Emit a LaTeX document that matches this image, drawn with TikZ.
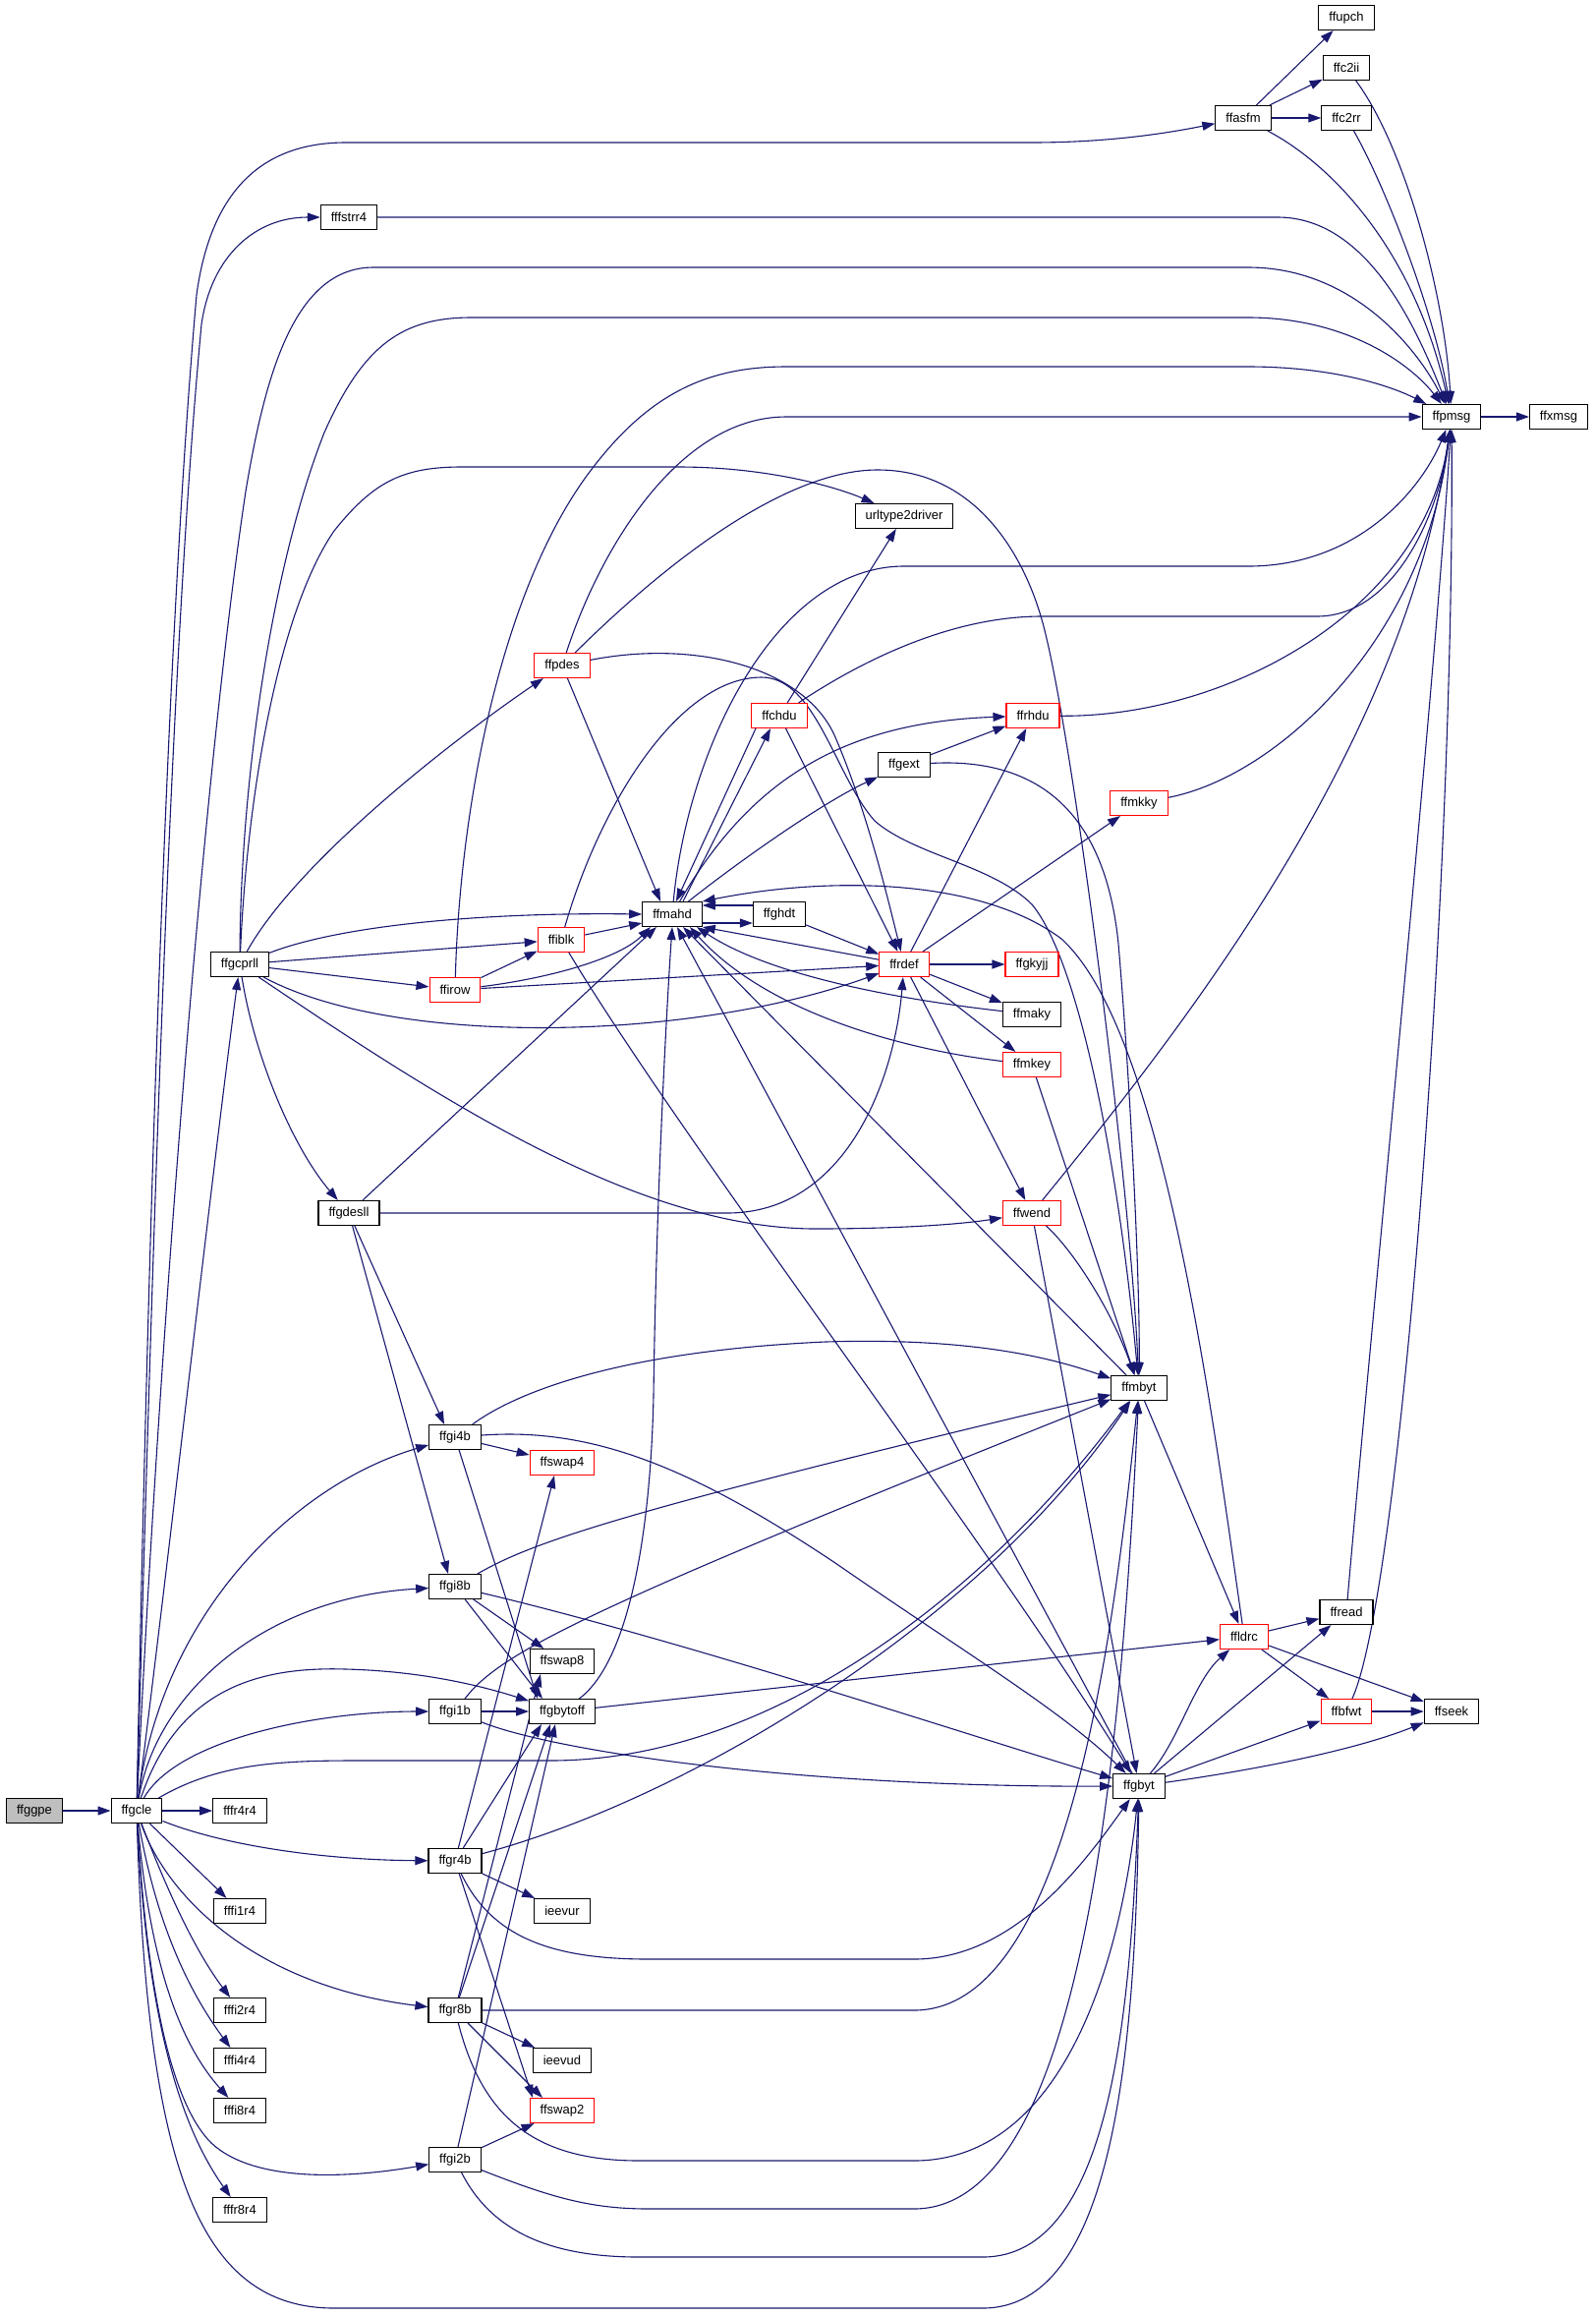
\documentclass[tikz,border=0pt]{standalone}
\usepackage{fontspec}
\setmainfont{Liberation Sans}[Ligatures=CommonOff]
\usetikzlibrary{arrows.meta}
\definecolor{ecol}{HTML}{191970}
\definecolor{ngray}{HTML}{BFBFBF}
\pgfdeclarelayer{bg}
\pgfsetlayers{bg,main}
\begin{document}
\begin{tikzpicture}[x=1pt,y=-1pt,
  nd/.style={draw=black, line width=1.1pt, fill=white, minimum height=25pt, inner xsep=10.5pt, inner ysep=0pt, font=\fontsize{13}{15}\selectfont},
  rn/.style={nd, draw=red},
  gn/.style={nd, fill=ngray},
  conn/.style={draw=ecol, line width=1.1pt, -{Triangle[length=13pt,width=9pt]}}]
\useasboundingbox (0,0) rectangle (1623,2356);
% nodes
\node[gn] (ffggpe) at (35,1842) {ffggpe};
\node[nd] (ffgcle) at (139,1842) {ffgcle};
\node[nd] (fffr4r4) at (244,1842) {fffr4r4};
\node[nd] (fffi1r4) at (244,1944) {fffi1r4};
\node[nd] (fffi2r4) at (244,2045) {fffi2r4};
\node[nd] (fffi4r4) at (244,2096) {fffi4r4};
\node[nd] (fffi8r4) at (244,2147) {fffi8r4};
\node[nd] (fffr8r4) at (244,2248) {fffr8r4};
\node[nd] (ffgcprll) at (244,981) {ffgcprll};
\node[nd] (ffgdesll) at (355,1234) {ffgdesll};
\node[nd] (fffstrr4) at (355,221) {fffstrr4};
\node[nd] (ffgi4b) at (463,1462) {ffgi4b};
\node[nd] (ffgi8b) at (463,1614) {ffgi8b};
\node[nd] (ffgi1b) at (463,1741) {ffgi1b};
\node[nd] (ffgr4b) at (463,1893) {ffgr4b};
\node[nd] (ffgr8b) at (463,2045) {ffgr8b};
\node[nd] (ffgi2b) at (463,2197) {ffgi2b};
\node[rn] (ffirow) at (463,1007) {ffirow};
\node[rn] (ffpdes) at (572,677) {ffpdes};
\node[rn] (ffiblk) at (571,956) {ffiblk};
\node[nd] (ffmahd) at (684,930) {ffmahd};
\node[nd] (ffghdt) at (793,930) {ffghdt};
\node[rn] (ffchdu) at (793,728) {ffchdu};
\node[nd] (urltype2driver) at (920,525) {urltype2driver};
\node[nd] (ffgext) at (920,778) {ffgext};
\node[rn] (ffrdef) at (920,981) {ffrdef};
\node[rn] (ffgkyjj) at (1050,981) {ffgkyjj};
\node[nd] (ffmaky) at (1050,1032) {ffmaky};
\node[rn] (ffmkey) at (1050,1083) {ffmkey};
\node[rn] (ffwend) at (1050,1234) {ffwend};
\node[rn] (ffrhdu) at (1051,728) {ffrhdu};
\node[rn] (ffmkky) at (1159,817) {ffmkky};
\node[nd] (ffmbyt) at (1159,1412) {ffmbyt};
\node[nd] (ffgbyt) at (1159,1817) {ffgbyt};
\node[rn] (ffswap4) at (572,1488) {ffswap4};
\node[nd] (ffswap8) at (572,1690) {ffswap8};
\node[nd] (ffgbytoff) at (572,1741) {ffgbytoff};
\node[nd] (ieevur) at (572,1944) {ieevur};
\node[nd] (ieevud) at (572,2096) {ieevud};
\node[rn] (ffswap2) at (572,2147) {ffswap2};
\node[rn] (ffldrc) at (1266,1665) {ffldrc};
\node[nd] (ffread) at (1370,1640) {ffread};
\node[rn] (ffbfwt) at (1370,1741) {ffbfwt};
\node[nd] (ffseek) at (1477,1741) {ffseek};
\node[nd] (ffasfm) at (1265,120) {ffasfm};
\node[nd] (ffupch) at (1370,18) {ffupch};
\node[nd] (ffc2ii) at (1370,69) {ffc2ii};
\node[nd] (ffc2rr) at (1370,120) {ffc2rr};
\node[nd] (ffpmsg) at (1477,424) {ffpmsg};
\node[nd] (ffxmsg) at (1586,424) {ffxmsg};

\begin{pgfonlayer}{bg}
\fill[white] (0,0) rectangle (1623,2356);
% ffgcle
\draw[conn] (ffggpe) -- (ffgcle);
\draw[conn] (ffgcle) -- (fffr4r4);
\draw[conn] (ffgcle) -- (fffi1r4);
\draw[conn] (ffgcle) .. controls (165,1910) and (195,1980) .. (fffi2r4);
\draw[conn] (ffgcle) .. controls (158,1950) and (188,2020) .. (fffi4r4);
\draw[conn] (ffgcle) .. controls (152,1990) and (180,2075) .. (fffi8r4);
\draw[conn] (ffgcle) .. controls (150,2060) and (185,2165) .. (fffr8r4);
\draw[conn] (ffgcle) .. controls (230,1878) and (330,1892) .. (ffgr4b);
\draw[conn] (ffgcle) .. controls (170,1930) and (260,2020) .. (ffgr8b);
\draw[conn] (ffgcle) .. controls (150,2030) and (175,2140) .. (215,2180) .. controls (260,2222) and (360,2215) .. (ffgi2b);
\draw[conn] (ffgcle) .. controls (150,2200) and (200,2348) .. (340,2348) -- (1000,2348) .. controls (1130,2348) and (1155,2100) .. (ffgbyt);
\draw[conn] (ffgcle) .. controls (220,1795) and (280,1791) .. (360,1791) -- (560,1791) .. controls (800,1791) and (1020,1600) .. (ffmbyt);
\draw[conn] (ffgcle) .. controls (180,1770) and (320,1741) .. (ffgi1b);
\draw[conn] (ffgcle) .. controls (180,1720) and (260,1695) .. (352,1698) .. controls (430,1700) and (490,1715) .. (ffgbytoff);
\draw[conn] (ffgcle) .. controls (160,1720) and (270,1625) .. (ffgi8b);
\draw[conn] (ffgcle) .. controls (165,1640) and (300,1510) .. (ffgi4b);
\draw[conn] (ffgcle) .. controls (170,1600) and (215,1200) .. (ffgcprll);
\draw[conn] (ffgcle) .. controls (160,1400) and (205,800) .. (250,500) .. controls (270,380) and (300,272) .. (380,272) -- (1270,272) .. controls (1380,272) and (1445,360) .. (ffpmsg);
\draw[conn] (ffgcle) .. controls (148,1400) and (165,700) .. (200,300) .. controls (215,190) and (270,145) .. (352,145) -- (1050,145) .. controls (1130,145) and (1190,135) .. (ffasfm);
\draw[conn] (ffgcle) .. controls (152,1400) and (170,700) .. (205,330) .. controls (215,260) and (260,221) .. (fffstrr4);
% ffgcprll
\draw[conn] (ffgcprll) .. controls (245,800) and (275,580) .. (330,440) .. controls (370,350) and (410,323) .. (480,323) -- (1270,323) .. controls (1370,323) and (1435,370) .. (ffpmsg);
\draw[conn] (ffgcprll) .. controls (252,800) and (285,620) .. (340,540) .. controls (380,490) and (410,475) .. (470,475) -- (690,475) .. controls (780,475) and (850,495) .. (urltype2driver);
\draw[conn] (ffgcprll) .. controls (300,880) and (450,760) .. (ffpdes);
\draw[conn] (ffgcprll) .. controls (350,940) and (500,928) .. (ffmahd.west);
\draw[conn] (ffgcprll) -- (ffiblk);
\draw[conn] (ffgcprll) -- (ffirow);
\draw[conn] (ffgcprll) .. controls (400,1065) and (700,1060) .. (ffrdef);
\draw[conn] (ffgcprll) .. controls (450,1120) and (650,1250) .. (830,1250) .. controls (920,1250) and (980,1245) .. (ffwend);
\draw[conn] (ffgcprll) .. controls (260,1080) and (300,1170) .. (ffgdesll);
% ffgdesll
\draw[conn] (ffgdesll) -- ([xshift=-16pt]ffmahd.south);
\draw[conn] (ffgdesll) -- (740,1234) .. controls (860,1234) and (910,1100) .. (ffrdef);
\draw[conn] (ffgdesll) -- ([xshift=-11pt]ffgi4b.north);
\draw[conn] (ffgdesll) -- ([xshift=-7pt]ffgi8b.north);
% ffirow
\draw[conn] (ffirow) .. controls (468,820) and (510,600) .. (600,480) .. controls (660,400) and (720,373) .. (800,373) -- (1270,373) .. controls (1350,373) and (1410,390) .. (ffpmsg);
\draw[conn] (ffirow) -- (ffiblk);
\draw[conn] (ffirow) .. controls (560,995) and (630,975) .. ([xshift=-22pt]ffmahd.south);
\draw[conn] (ffirow) -- (ffrdef);
% ffiblk
\draw[conn] (ffiblk) -- ([yshift=-9pt]ffmahd.west);
\draw[conn] (ffiblk) .. controls (610,820) and (690,689) .. (775,689) .. controls (830,689) and (850,790) .. (890,835) .. controls (930,870) and (1010,880) .. (1050,920) .. controls (1100,980) and (1140,1200) .. (ffmbyt);
\draw[conn] (ffiblk) .. controls (700,1170) and (1000,1560) .. (ffgbyt);
% ffpdes
\draw[conn] (ffpdes) .. controls (610,560) and (690,424) .. (800,424) -- (ffpmsg);
\draw[conn] (ffpdes) .. controls (680,570) and (800,478) .. (893,478) .. controls (990,478) and (1040,560) .. (1060,630) .. controls (1090,735) and (1150,1200) .. (ffmbyt);
\draw[conn] (ffpdes) -- ([xshift=-12pt]ffmahd.north);
\draw[conn] (ffpdes) .. controls (710,650) and (820,680) .. (850,750) .. controls (880,820) and (900,900) .. (ffrdef);
% ffchdu
\draw[conn] (ffchdu) -- (urltype2driver);
\draw[conn] (ffchdu) .. controls (880,670) and (970,627) .. (1060,627) -- (1340,627) .. controls (1420,627) and (1465,520) .. (ffpmsg);
\draw[conn] ([xshift=-24pt]ffchdu.south) -- ([xshift=4pt]ffmahd.north);
\draw[conn] ([xshift=11pt]ffmahd.north) -- ([xshift=-9pt]ffchdu.south);
\draw[conn] (ffchdu) -- (ffrdef);
% ffmahd
\draw[conn] (ffmahd) .. controls (700,760) and (790,576) .. (920,576) -- (1270,576) .. controls (1380,576) and (1445,500) .. (ffpmsg);
\draw[conn] (ffmahd) .. controls (760,800) and (850,735) .. (ffrhdu);
\draw[conn] (ffmahd) .. controls (760,870) and (840,815) .. (ffgext);
\draw[conn] ([yshift=-9pt]ffmahd.east) -- ([yshift=-9pt]ffghdt.west);
\draw[conn] ([yshift=9pt]ffghdt.west) -- ([yshift=9pt]ffmahd.east);
\draw[conn] (ffghdt) -- (ffrdef);
% ffrdef
\draw[conn] (ffrdef) .. controls (850,968) and (780,955) .. (ffmahd.south east);
\draw[conn] (ffrdef) -- (ffrhdu);
\draw[conn] (ffrdef) -- (ffmkky);
\draw[conn] (ffrdef) -- (ffgkyjj);
\draw[conn] (ffrdef) -- (ffmaky);
\draw[conn] (ffrdef) -- (ffmkey);
\draw[conn] (ffrdef) -- (ffwend);
% ffgext
\draw[conn] (ffgext) -- (ffrhdu);
\draw[conn] (ffgext) .. controls (1060,770) and (1125,830) .. (1138,960) .. controls (1150,1100) and (1160,1300) .. (ffmbyt);
% misc to ffpmsg / ffmahd
\draw[conn] (ffrhdu) .. controls (1250,730) and (1450,620) .. (ffpmsg);
\draw[conn] (ffmkky) .. controls (1300,790) and (1450,650) .. (ffpmsg);
\draw[conn] (ffmaky) .. controls (900,1015) and (780,990) .. ([xshift=25pt]ffmahd.south);
\draw[conn] (ffmkey) .. controls (920,1068) and (780,1030) .. ([xshift=18pt]ffmahd.south);
\draw[conn] (ffmkey) -- (ffmbyt);
% ffwend
\draw[conn] (ffwend) .. controls (1200,1050) and (1430,760) .. (ffpmsg);
\draw[conn] (ffwend) .. controls (1090,1270) and (1130,1330) .. (ffmbyt);
\draw[conn] (ffwend) -- (ffgbyt);
% ffmbyt, ffgbyt
\draw[conn] (ffmbyt) -- ([xshift=11pt]ffmahd.south);
\draw[conn] (ffmbyt) -- (ffldrc);
\draw[conn] (ffgbyt) -- ([xshift=5pt]ffmahd.south);
\draw[conn] (ffgbyt) .. controls (1200,1770) and (1215,1710) .. (ffldrc);
\draw[conn] (ffgbyt) -- (ffread);
\draw[conn] (ffgbyt) -- (ffbfwt);
\draw[conn] (ffgbyt) .. controls (1280,1800) and (1380,1780) .. (ffseek);
% ffldrc
\draw[conn] (ffldrc) .. controls (1235,1450) and (1185,1050) .. (1080,955) .. controls (1000,895) and (850,890) .. (ffmahd.north east);
\draw[conn] (ffldrc) -- (ffread);
\draw[conn] (ffldrc) -- (ffbfwt);
\draw[conn] (ffldrc) -- (ffseek);
\draw[conn] (ffread) .. controls (1395,1350) and (1460,700) .. (ffpmsg);
\draw[conn] (ffbfwt) .. controls (1425,1620) and (1480,900) .. (ffpmsg);
\draw[conn] (ffbfwt) -- (ffseek);
% top right
\draw[conn] (ffasfm) -- (ffupch);
\draw[conn] (ffasfm) -- (ffc2ii);
\draw[conn] (ffasfm) -- (ffc2rr);
\draw[conn] (ffasfm) .. controls (1360,170) and (1440,260) .. (ffpmsg);
\draw[conn] (ffc2ii) .. controls (1430,150) and (1470,300) .. (ffpmsg);
\draw[conn] (ffc2rr) .. controls (1410,190) and (1460,320) .. (ffpmsg);
\draw[conn] (fffstrr4) -- (1300,221) .. controls (1390,221) and (1440,330) .. (ffpmsg);
\draw[conn] (ffpmsg) -- (ffxmsg);
% ffgi4b
\draw[conn] (ffgi4b) .. controls (520,1420) and (620,1375) .. (840,1365) .. controls (1000,1360) and (1080,1385) .. (ffmbyt);
\draw[conn] (ffgi4b) .. controls (600,1452) and (700,1490) .. (850,1590) .. controls (980,1680) and (1080,1740) .. (ffgbyt);
\draw[conn] (ffgi4b) -- (ffswap4);
\draw[conn] (ffgi4b) -- ([xshift=-25pt]ffgbytoff.north);
% ffgi8b
\draw[conn] (ffgi8b) .. controls (540,1570) and (620,1540) .. (ffmbyt);
\draw[conn] (ffgi8b) .. controls (700,1670) and (1000,1770) .. (ffgbyt);
\draw[conn] (ffgi8b) -- (ffswap8);
\draw[conn] (ffgi8b) -- ([xshift=-20pt]ffgbytoff.north);
% ffgi1b
\draw[conn] (ffgi1b) -- (ffgbytoff);
\draw[conn] (ffgi1b) .. controls (510,1680) and (600,1635) .. (ffmbyt);
\draw[conn] (ffgi1b) .. controls (560,1780) and (800,1818) .. (ffgbyt);
% ffgbytoff
\draw[conn] (ffgbytoff) .. controls (640,1690) and (662,1560) .. (665,1420) .. controls (668,1200) and (680,1000) .. (ffmahd.south);
\draw[conn] (ffgbytoff) -- (ffldrc);
% ffgr4b
\draw[conn] (ffgr4b) -- ([xshift=-21pt]ffgbytoff.south);
\draw[conn] (ffgr4b) -- ([xshift=-8pt]ffswap4.south);
\draw[conn] (ffgr4b) .. controls (700,1830) and (1000,1650) .. (ffmbyt);
\draw[conn] (ffgr4b) -- (ieevur);
\draw[conn] (ffgr4b) .. controls (500,1970) and (560,1993) .. (660,1993) -- (930,1993) .. controls (1030,1993) and (1100,1900) .. (ffgbyt);
\draw[conn] (ffgr4b) -- ([xshift=-30pt]ffswap2.north);
% ffgr8b
\draw[conn] (ffgr8b) -- ([xshift=-22pt]ffswap8.south);
\draw[conn] (ffgr8b) -- ([xshift=-12pt]ffgbytoff.south);
\draw[conn] (ffgr8b) -- (ieevud);
\draw[conn] (ffgr8b) -- ([xshift=-20pt]ffswap2.north);
\draw[conn] (ffgr8b) -- (930,2045) .. controls (1080,2045) and (1130,1700) .. (ffmbyt);
\draw[conn] (ffgr8b) .. controls (490,2150) and (540,2198) .. (650,2198) -- (930,2198) .. controls (1080,2198) and (1140,2000) .. (ffgbyt);
% ffgi2b
\draw[conn] (ffgi2b) -- (ffswap2);
\draw[conn] (ffgi2b) -- ([xshift=-7pt]ffgbytoff.south);
\draw[conn] (ffgi2b) .. controls (560,2235) and (600,2247) .. (660,2247) -- (930,2247) .. controls (1100,2247) and (1140,1800) .. (ffmbyt);
\draw[conn] (ffgi2b) .. controls (500,2270) and (560,2296) .. (650,2296) -- (1000,2296) .. controls (1130,2296) and (1150,2050) .. (ffgbyt);
\end{pgfonlayer}
\end{tikzpicture}
\end{document}
